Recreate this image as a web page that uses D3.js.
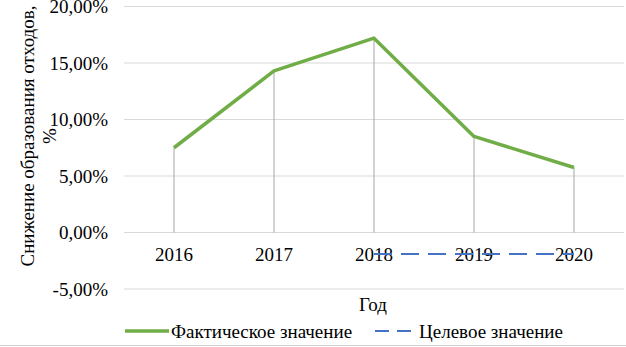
<!DOCTYPE html>
<html><head><meta charset="utf-8">
<script src="https://cdn.jsdelivr.net/npm/d3@7"></script>
<style>body{margin:0;background:#fff}svg{display:block}</style>
</head><body>
<svg id="c" width="626" height="347" font-family="'Liberation Serif', 'Times New Roman', 'DejaVu Serif', serif"></svg>
<script>
const years = ["2016","2017","2018","2019","2020"];
const actual = [7.5, 14.3, 17.2, 8.5, 5.75];
const targetYears = ["2018","2019","2020"];
const target = [-1.9, -1.9, -1.9];
const yTicks = [-5, 0, 5, 10, 15, 20];
const yTitle = ["Снижение образования отходов,", "%"];
const xTitle = "Год";
const legendNames = ["Фактическое значение", "Целевое значение"];

const FS = 19;
const svg = d3.select("#c");
const x = d3.scalePoint().domain(years).range([174, 574]);
const y = d3.scaleLinear().domain([-5, 20]).range([289, 6.5]);
const fmt = v => (v < 0 ? "-" : "") + Math.abs(v).toFixed(2).replace(".", ",") + "%";

// gridlines
svg.append("g").selectAll("line").data(yTicks).join("line")
  .attr("x1", 124).attr("x2", 624)
  .attr("y1", d => y(d)).attr("y2", d => y(d))
  .attr("stroke", "#d9d9d9").attr("stroke-width", 1);

// y tick labels
svg.append("g").selectAll("text").data(yTicks).join("text")
  .attr("x", 108).attr("y", d => y(d)).attr("dy", "0.35em")
  .attr("text-anchor", "end").attr("font-size", FS).text(fmt);

// drop lines
svg.append("g").selectAll("line").data(years).join("line")
  .attr("x1", d => x(d)).attr("x2", d => x(d))
  .attr("y1", (d, i) => y(actual[i])).attr("y2", y(0))
  .attr("stroke", "#a6a6a6").attr("stroke-width", 1);

// x labels
svg.append("g").selectAll("text").data(years).join("text")
  .attr("x", d => x(d)).attr("y", 254).attr("dy", "0.35em")
  .attr("text-anchor", "middle").attr("font-size", FS).text(d => d);

// actual line
svg.append("path").datum(years.map((d, i) => [x(d), y(actual[i])]))
  .attr("d", d3.line()).attr("fill", "none")
  .attr("stroke", "#70ad47").attr("stroke-width", 3.5).attr("stroke-linejoin", "round");

// target line
svg.append("path").datum(targetYears.map((d, i) => [x(d), y(target[i])]))
  .attr("d", d3.line()).attr("fill", "none")
  .attr("stroke", "#4472c4").attr("stroke-width", 2).attr("stroke-dasharray", "18,9");

// y title
const yt = svg.append("text").attr("transform", "translate(27,136) rotate(-90)")
  .attr("text-anchor", "middle").attr("font-size", FS);
yt.append("tspan").attr("x", 0).attr("dy", "0.35em").text(yTitle[0]);
yt.append("tspan").attr("x", 0).attr("dy", "1.2em").text(yTitle[1]);

// x title
svg.append("text").attr("x", 373).attr("y", 304).attr("dy", "0.35em")
  .attr("text-anchor", "middle").attr("font-size", FS).text(xTitle);

// legend
svg.append("line").attr("x1", 125).attr("x2", 169).attr("y1", 331).attr("y2", 331)
  .attr("stroke", "#70ad47").attr("stroke-width", 3.5);
svg.append("text").attr("x", 171).attr("y", 331).attr("dy", "0.35em")
  .attr("font-size", FS).text(legendNames[0]);
svg.append("line").attr("x1", 375).attr("x2", 417).attr("y1", 331).attr("y2", 331)
  .attr("stroke", "#4472c4").attr("stroke-width", 2).attr("stroke-dasharray", "14,8");
svg.append("text").attr("x", 419).attr("y", 331).attr("dy", "0.35em")
  .attr("font-size", FS).text(legendNames[1]);

// bottom border
svg.append("line").attr("x1", 0).attr("x2", 626).attr("y1", 345.5).attr("y2", 345.5)
  .attr("stroke", "#d0d0d0").attr("stroke-width", 1);
</script>
</body></html>
